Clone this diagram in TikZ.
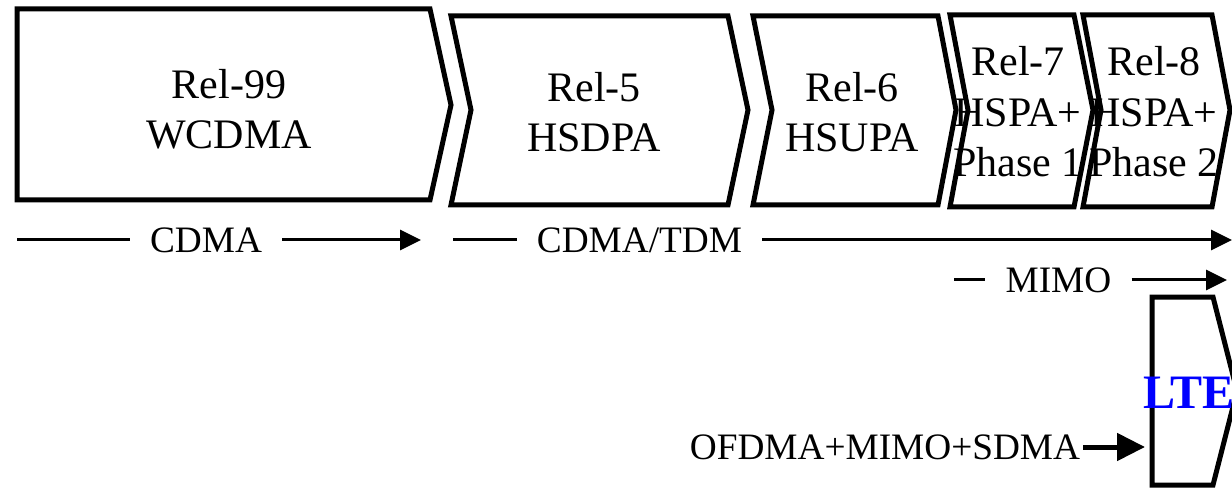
\documentclass[tikz,border=0pt]{standalone}
\usepackage{fontspec}
\setmainfont{Liberation Serif}
\usepackage{tikz}
\usetikzlibrary{arrows.meta,positioning,calc}
\usepackage{xcolor}
\definecolor{ltecolor}{HTML}{0000FF}
\definecolor{inkcolor}{HTML}{000000}

\begin{document}
\begin{tikzpicture}[x=1pt,y=-1pt,
  relbox/.style={draw=inkcolor,line width=5pt,line join=miter},
  reltext/.style={align=center,inner sep=0pt,text=inkcolor,
                  font=\fontsize{42}{50.4}\selectfont},
  techlabel/.style={inner xsep=20pt,inner ysep=0pt,text height=24.6pt,
                    text depth=0pt,font=\fontsize{37.3}{44}\selectfont},
  techline/.style={draw=inkcolor,line width=3pt},
  techarrow/.style={techline,-{Triangle[length=21pt,width=20pt]}}]
  \useasboundingbox (0,0) rectangle (1232,489);

  % release chevrons
  \draw[relbox] (17,9) -- (430,9) -- (451,105) -- (430,200) -- (17,200) -- cycle;
  \draw[relbox] (451,16) -- (728,16) -- (748,110) -- (728,205) -- (451,205) -- (471,110) -- cycle;
  \draw[relbox] (753,16) -- (938,16) -- (956,110) -- (938,205) -- (753,205) -- (772,110) -- cycle;
  \draw[relbox] (950,15) -- (1074,15) -- (1093,110) -- (1074,207) -- (950,207) -- (968,110) -- cycle;
  \draw[relbox] (1083,15) -- (1212,15) -- (1230,110) -- (1212,207) -- (1083,207) -- (1101,110) -- cycle;
  \draw[relbox] (1152,297) -- (1213,297) -- (1237,391) -- (1213,485) -- (1152,485) -- cycle;

  \node[reltext] (rel99) at (229,109) {Rel-99\\WCDMA};
  \node[reltext] (rel5) at (594,112) {Rel-5\\HSDPA};
  \node[reltext] (rel6) at (852,112) {Rel-6\\HSUPA};
  \node[reltext] (rel7) at (1018,112) {Rel-7\\HSPA+\\Phase 1};
  \node[reltext] (rel8) at (1154,112) {Rel-8\\HSPA+\\Phase 2};
  \node[anchor=base west,inner sep=0pt,text=ltecolor,
        font=\fontsize{48}{56}\selectfont\bfseries] (lte) at (1143,408) {LTE};

  % access schemes
  \node[techlabel] (cdma) at (206,240) {CDMA};
  \coordinate (cdmastart) at (17,240);
  \coordinate (cdmaend) at (421,240);
  \draw[techline] (cdmastart) -- (cdma);
  \draw[techarrow] (cdma) -- (cdmaend);

  \node[techlabel] (tdm) at (639.5,240) {CDMA/TDM};
  \coordinate (tdmstart) at (453,240);
  \coordinate (tdmend) at (1232,240);
  \draw[techline] (tdmstart) -- (tdm);
  \draw[techarrow] (tdm) -- (tdmend);

  \node[techlabel] (mimo) at (1058.5,280) {MIMO};
  \coordinate (mimostart) at (954,280);
  \coordinate (mimoend) at (1227,280);
  \draw[techline] (mimostart) -- (mimo);
  \draw[techarrow] (mimo) -- (mimoend);

  \node[techlabel,inner xsep=3pt] (ofdma) at (885,447) {OFDMA+MIMO+SDMA};
  \coordinate (ltein) at (1145,447);
  \draw[draw=inkcolor,line width=5pt,-{Triangle[length=28pt,width=27pt]}] (ofdma) -- (ltein);
\end{tikzpicture}
\end{document}
